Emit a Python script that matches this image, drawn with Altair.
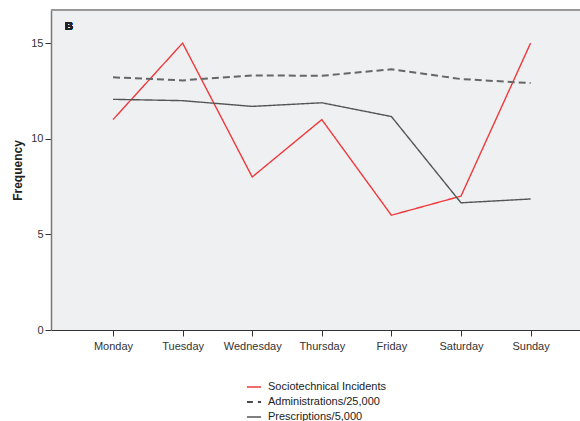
import altair as alt
import pandas as pd

days = ["Monday", "Tuesday", "Wednesday", "Thursday", "Friday", "Saturday", "Sunday"]
incidents = [11, 15, 8, 11, 6, 7, 15]
administrations = [13.21, 13.05, 13.31, 13.29, 13.63, 13.12, 12.91]
prescriptions = [12.06, 11.99, 11.69, 11.88, 11.16, 6.65, 6.85]

series_names = ["Sociotechnical Incidents", "Administrations/25,000", "Prescriptions/5,000"]
series_colors = ["#f0393c", "#111111", "#555555"]
series_dash = [[1, 0], [6, 5], [1, 0]]

rows = []
for name, vals in zip(series_names, [incidents, administrations, prescriptions]):
    for i, (d, v) in enumerate(zip(days, vals)):
        rows.append({"series": name, "idx": i, "day": d, "value": v})
df = pd.DataFrame(rows)

FONT = "Liberation Sans"
W, H = 529, 320

label_expr = "[" + ",".join(f"'{d}'" for d in days) + "][datum.value]"

x_enc = alt.X(
    "idx:Q",
    scale=alt.Scale(domain=[-0.891, 6.71], nice=False, zero=False),
    axis=alt.Axis(
        values=list(range(7)), labelExpr=label_expr, title=None, grid=False,
        domainColor="#333333", domainWidth=1.2, tickColor="#333333", tickSize=6,
        labelFont=FONT, labelFontSize=11, labelColor="#333333", labelPadding=4,
    ),
)
y_enc = alt.Y(
    "value:Q",
    scale=alt.Scale(domain=[0, 16.73], nice=False),
    axis=alt.Axis(
        values=[0, 5, 10, 15], title="Frequency", grid=False,
        domainColor="#777777", domainWidth=1.5, tickColor="#333333", tickSize=6,
        labelFont=FONT, labelFontSize=11, labelColor="#333333", labelPadding=2,
        titleFont=FONT, titleFontSize=12, titleFontWeight="bold", titleColor="#222222",
        titlePadding=6,
    ),
)

# all three series share one legend; the administrations line itself is
# hidden here and redrawn below in a lighter, heavier dashed stroke
lines = alt.Chart(df).mark_line(strokeWidth=1.4).encode(
    x=x_enc,
    y=y_enc,
    color=alt.Color(
        "series:N",
        scale=alt.Scale(domain=series_names, range=series_colors),
        legend=alt.Legend(
            title=None, orient="none", legendX=195, legendY=369,
            symbolType="stroke", symbolSize=200, symbolStrokeWidth=1.4,
            labelFont=FONT, labelFontSize=11, labelColor="#222222",
            rowPadding=2, labelOffset=6,
        ),
    ),
    strokeDash=alt.StrokeDash(
        "series:N",
        scale=alt.Scale(domain=series_names, range=series_dash),
        legend=None,
    ),
    opacity=alt.condition(
        alt.datum.series == "Administrations/25,000", alt.value(0), alt.value(1)
    ),
    detail="series:N",
)

admin_line = alt.Chart(df[df["series"] == "Administrations/25,000"]).mark_line(
    strokeWidth=2, color="#666666", strokeDash=[7, 4]
).encode(x="idx:Q", y="value:Q")

top_border = alt.Chart(df).mark_rule(color="#999999", strokeWidth=1.5).encode(
    y=alt.value(0)
)

panel_label = alt.Chart(df).mark_text(
    text="B", font=FONT, fontSize=11, fontWeight="bold", color="#222222", align="left"
).encode(x=alt.value(14), y=alt.value(17))

chart = alt.layer(
    lines, admin_line, top_border, panel_label,
).properties(
    width=W, height=H,
    autosize=alt.AutoSizeParams(type="none"),
    padding={"left": 51, "top": 10, "right": 0, "bottom": 91},
    background="white",
).configure_view(
    fill="#eff0f2", stroke=None
)

chart.save("out.html", embed_options={"renderer": "svg", "actions": False})
